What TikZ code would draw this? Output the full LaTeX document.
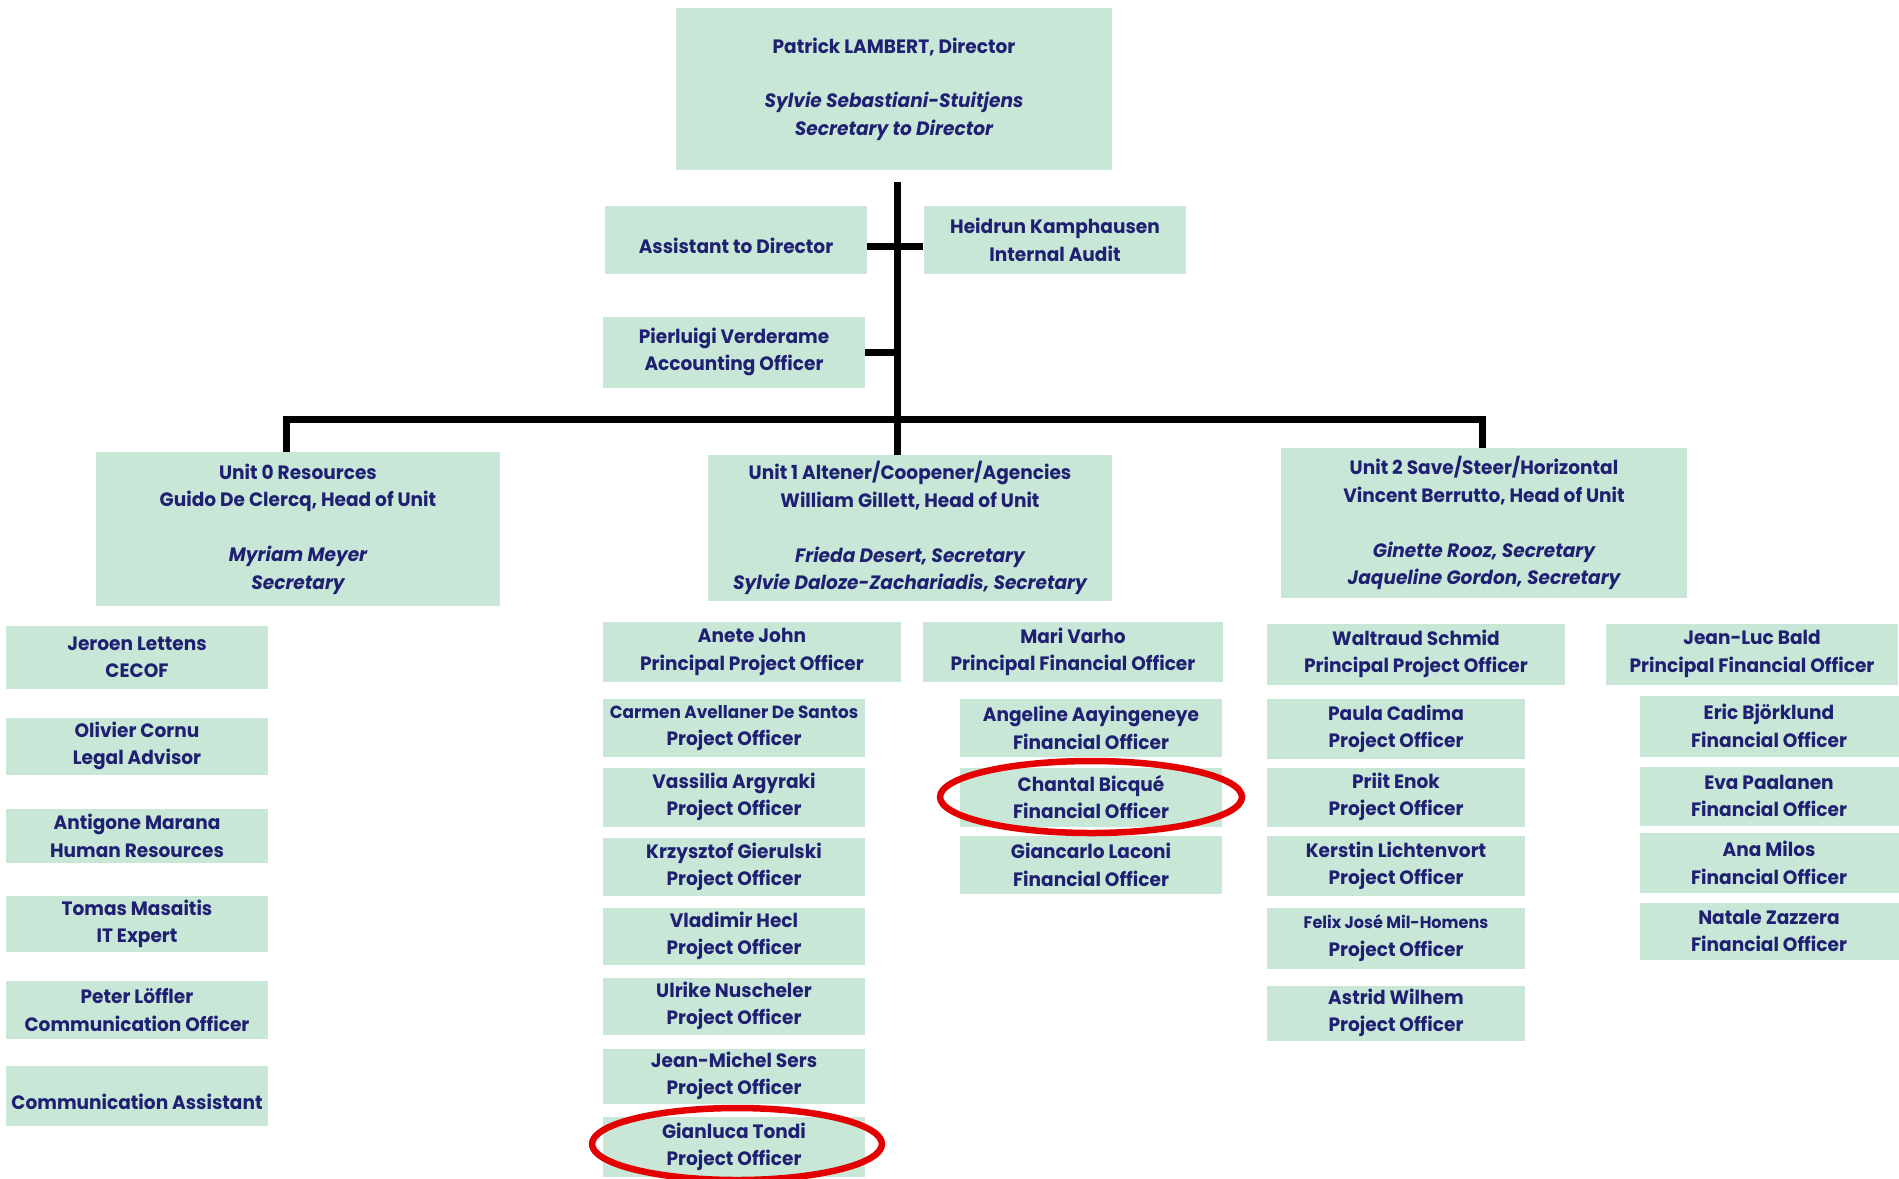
\documentclass[tikz,border=0pt]{standalone}
\usepackage{fontspec}
\setmainfont{Poppins}[FakeStretch=0.96]
\usetikzlibrary{positioning, calc}

\begin{document}
\begin{tikzpicture}[x=0.02cm, y=-0.02cm,
    box/.style={fill=boxgreen, text=textblue, align=center, inner sep=0pt,
        font=\bfseries\fontsize{11}{15.6}\selectfont},
    orgline/.style={line width=0.14cm, black},
    ring/.style={line width=0.13cm, ringred}]
    % colours
    \definecolor{boxgreen}{RGB}{200,231,215}
    \definecolor{textblue}{RGB}{32,32,115}
    \definecolor{ringred}{RGB}{228,0,0}

    \fill[white] (0,0) rectangle (1899,1178);
    \useasboundingbox (0,0) rectangle (1899,1178);

    % 1. Director and staff
    \node[box, minimum width=8.72cm, minimum height=3.24cm] (director) at (894,89)
        {Patrick LAMBERT, Director\\[15.6pt] \itshape Sylvie Sebastiani-Stuitjens\\ \itshape Secretary to Director};
    \node[box, minimum width=5.24cm, minimum height=1.36cm] (assist) at (736,240)
        {\mbox{}\\ Assistant to Director};
    \node[box, minimum width=5.26cm, minimum height=1.36cm] (audit) at (1055,240)
        {Heidrun Kamphausen\\ Internal Audit};
    \node[box, minimum width=5.24cm, minimum height=1.42cm] (account) at (734,352)
        {Pierluigi Verderame\\ Accounting Officer};

    % 2. Units
    \node[box, minimum width=8.08cm, minimum height=3.08cm] (unit0) at (298,529)
        {Unit 0 Resources\\ Guido De Clercq, Head of Unit\\[15.6pt] \itshape Myriam Meyer\\ \itshape Secretary};
    \node[box, minimum width=8.10cm, minimum height=2.92cm] (unit1) at (910,528)
        {Unit 1 Altener/Coopener/Agencies\\ William Gillett, Head of Unit\\[15.6pt] \itshape Frieda Desert, Secretary\\ \itshape Sylvie Daloze-Zachariadis, Secretary};
    \node[box, minimum width=8.12cm, minimum height=3.00cm] (unit2) at (1484,523)
        {Unit 2 Save/Steer/Horizontal\\ Vincent Berrutto, Head of Unit\\[15.6pt] \itshape Ginette Rooz, Secretary\\ \itshape Jaqueline Gordon, Secretary};

    % 3. Unit 0 staff
    \node[box, minimum width=5.24cm, minimum height=1.26cm] (lettens) at (137,657) {Jeroen Lettens\\ CECOF};
    \node[box, minimum width=5.24cm, minimum height=1.14cm] (cornu) at (137,746) {Olivier Cornu\\ Legal Advisor};
    \node[box, minimum width=5.24cm, minimum height=1.08cm] (marana) at (137,836) {Antigone Marana\\ Human Resources};
    \node[box, minimum width=5.24cm, minimum height=1.12cm] (masaitis) at (137,924) {Tomas Masaitis\\ IT Expert};
    \node[box, minimum width=5.24cm, minimum height=1.16cm] (loeffler) at (137,1010) {Peter Löffler\\ Communication Officer};
    \node[box, minimum width=5.24cm, minimum height=1.20cm] (commassist) at (137,1096) {\mbox{}\\ Communication Assistant};

    % 4. Unit 1 staff
    \node[box, minimum width=5.96cm, minimum height=1.20cm] (john) at (752,652) {Anete John\\ Principal Project Officer};
    \node[box, minimum width=6.00cm, minimum height=1.20cm] (varho) at (1073,652) {Mari Varho\\ Principal Financial Officer};
    \node[box, minimum width=5.24cm, minimum height=1.16cm] (avellaner) at (734,728) {{\fontsize{10}{15.6}\selectfont Carmen Avellaner De Santos}\\ Project Officer};
    \node[box, minimum width=5.24cm, minimum height=1.18cm] (argyraki) at (734,797) {Vassilia Argyraki\\ Project Officer};
    \node[box, minimum width=5.24cm, minimum height=1.16cm] (gierulski) at (734,867) {Krzysztof Gierulski\\ Project Officer};
    \node[box, minimum width=5.24cm, minimum height=1.14cm] (hecl) at (734,936) {Vladimir Hecl\\ Project Officer};
    \node[box, minimum width=5.24cm, minimum height=1.14cm] (nuscheler) at (734,1006) {Ulrike Nuscheler\\ Project Officer};
    \node[box, minimum width=5.24cm, minimum height=1.10cm] (sers) at (734,1076) {Jean-Michel Sers\\ Project Officer};
    \node[box, minimum width=5.24cm, minimum height=1.20cm] (tondi) at (734,1147) {Gianluca Tondi\\ Project Officer};
    \node[box, minimum width=5.26cm, minimum height=1.16cm] (aayingeneye) at (1091,728) {Angeline Aayingeneye\\ Financial Officer};
    \node[box, minimum width=5.26cm, minimum height=1.18cm] (bicque) at (1091,797) {Chantal Bicqué\\ Financial Officer};
    \node[box, minimum width=5.26cm, minimum height=1.16cm] (laconi) at (1091,865) {Giancarlo Laconi\\ Financial Officer};

    % 5. Unit 2 staff
    \node[box, minimum width=5.96cm, minimum height=1.22cm] (schmid) at (1416,654) {Waltraud Schmid\\ Principal Project Officer};
    \node[box, minimum width=5.86cm, minimum height=1.22cm] (bald) at (1752,654) {Jean-Luc Bald\\ Principal Financial Officer};
    \node[box, minimum width=5.18cm, minimum height=1.20cm] (cadima) at (1396,729) {Paula Cadima\\ Project Officer};
    \node[box, minimum width=5.18cm, minimum height=1.18cm] (enok) at (1396,797) {Priit Enok\\ Project Officer};
    \node[box, minimum width=5.18cm, minimum height=1.20cm] (lichtenvort) at (1396,866) {Kerstin Lichtenvort\\ Project Officer};
    \node[box, minimum width=5.18cm, minimum height=1.22cm] (milhomens) at (1396,938) {{\fontsize{9.5}{15.6}\selectfont Felix José Mil-Homens}\\ Project Officer};
    \node[box, minimum width=5.18cm, minimum height=1.10cm] (wilhem) at (1396,1013) {Astrid Wilhem\\ Project Officer};
    \node[box, minimum width=5.18cm, minimum height=1.22cm] (bjorklund) at (1769,726) {Eric Björklund\\ Financial Officer};
    \node[box, minimum width=5.18cm, minimum height=1.18cm] (paalanen) at (1769,796) {Eva Paalanen\\ Financial Officer};
    \node[box, minimum width=5.18cm, minimum height=1.20cm] (milos) at (1769,863) {Ana Milos\\ Financial Officer};
    \node[box, minimum width=5.18cm, minimum height=1.14cm] (zazzera) at (1769,931) {Natale Zazzera\\ Financial Officer};

    % 6. Lines of the chart
    \coordinate (trunk) at (897,182);
    \coordinate (busL) at (286,419);
    \coordinate (busR) at (1482,419);
    \draw[orgline] (trunk) -- (unit1.north -| trunk);
    \draw[orgline] ([yshift=-0.12cm]assist.east) -- ([yshift=-0.12cm]audit.west);
    \draw[orgline] (account.east) -- (account.east -| trunk);
    \draw[orgline] (unit0.north -| busL) -- (busL) -- (busR) -- (unit2.north -| busR);

    % 7. Red rings
    \draw[ring] (bicque.center) ellipse [x radius=3.02cm, y radius=0.72cm];
    \draw[ring] ([xshift=0.06cm, yshift=0.06cm]tondi.center) ellipse [x radius=2.9cm, y radius=0.72cm];

\end{tikzpicture}
\end{document}
